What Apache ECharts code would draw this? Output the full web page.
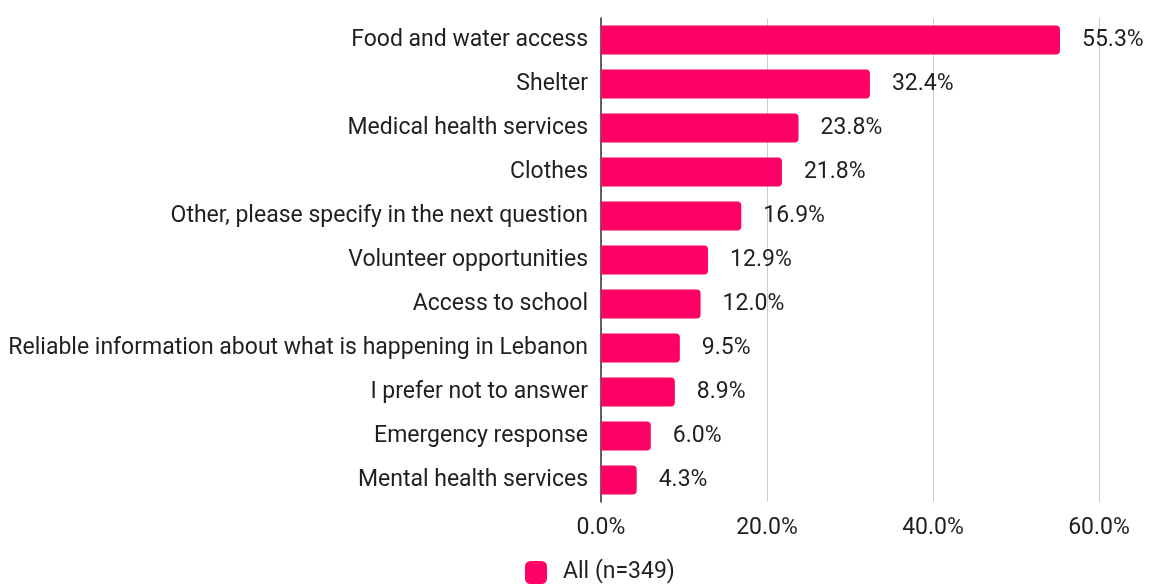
<!DOCTYPE html>
<html>
<head>
<meta charset="utf-8">
<script src="https://cdn.jsdelivr.net/npm/echarts@6/dist/echarts.min.js"></script>
<style>
  html, body { margin: 0; padding: 0; background: #fff; }
  #chart { width: 1149px; height: 586px; }
</style>
</head>
<body>
<div id="chart"></div>
<script>
// Support needs reported by respondents
const categories = [
  'Food and water access',
  'Shelter',
  'Medical health services',
  'Clothes',
  'Other, please specify in the next question',
  'Volunteer opportunities',
  'Access to school',
  'Reliable information about what is happening in Lebanon',
  'I prefer not to answer',
  'Emergency response',
  'Mental health services'
];
const values = [55.3, 32.4, 23.8, 21.8, 16.9, 12.9, 12.0, 9.5, 8.9, 6.0, 4.3];
const seriesName = 'All (n=349)';

const FONT = 'Roboto, "Noto Sans", sans-serif';
const TEXT = '#1f1f1f';

const chart = echarts.init(document.getElementById('chart'), null, { renderer: 'canvas' });
chart.setOption({
  animation: false,
  backgroundColor: '#ffffff',
  textStyle: { fontFamily: FONT },
  grid: { left: 601, right: 50, top: 18, bottom: 84, containLabel: false },
  legend: {
    data: [seriesName],
    left: 520,
    top: 556,
    itemWidth: 22,
    itemHeight: 23,
    itemGap: 10,
    icon: 'roundRect',
    textStyle: { fontFamily: FONT, fontSize: 23, color: TEXT, padding: [0, 0, 0, 11] }
  },
  xAxis: {
    type: 'value',
    min: 0,
    max: 60,
    interval: 20,
    axisLine: { show: false },
    axisTick: { show: false },
    splitLine: { show: true, lineStyle: { color: '#cccccc', width: 1 } },
    axisLabel: {
      margin: 15,
      fontFamily: FONT,
      fontSize: 23,
      color: TEXT,
      formatter: v => v.toFixed(1) + '%'
    }
  },
  yAxis: {
    type: 'category',
    data: categories,
    inverse: true,
    axisLine: { show: true, lineStyle: { color: '#333333', width: 1.5 } },
    axisTick: { show: false },
    axisLabel: { margin: 13, fontFamily: FONT, fontSize: 23, color: TEXT }
  },
  series: [{
    name: seriesName,
    type: 'bar',
    data: values,
    barWidth: 29,
    itemStyle: { color: '#ff0066', borderRadius: [0, 4, 4, 0] },
    label: {
      show: true,
      position: 'right',
      distance: 22,
      fontFamily: FONT,
      fontSize: 23,
      color: TEXT,
      formatter: p => p.value.toFixed(1) + '%'
    }
  }]
});
</script>
</body>
</html>
